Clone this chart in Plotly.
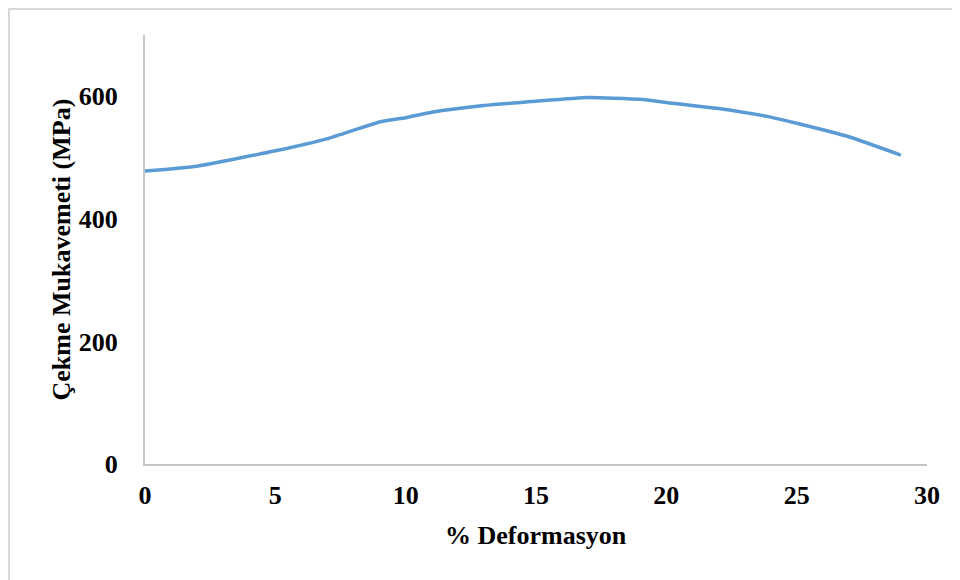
import plotly.graph_objects as go

deformasyon = [0, 2, 5, 7, 9, 10, 11, 13, 15, 17, 19, 20, 22, 24, 25, 27, 29]
mukavemet = [478, 486, 511, 531, 558, 565, 574, 585, 592, 598, 595, 590, 580, 566, 556, 534, 504]

x_ticks = [0, 5, 10, 15, 20, 25, 30]
y_ticks = [0, 200, 400, 600]

FONT = "Liberation Serif"
AXIS_COLOR = "#C6C6C6"
FS = 26

# plot area in page pixels: x 145..927, y 35..464 (page has an 8px body offset)
fig = go.Figure()
fig.add_trace(go.Scatter(
    x=deformasyon, y=mukavemet, mode="lines",
    line=dict(color="#5B9BD5", width=3.5, shape="spline", smoothing=0.45),
    showlegend=False, hoverinfo="x+y",
))

fig.update_layout(
    width=960, height=580,
    margin=dict(l=137, r=41, t=27, b=124),
    paper_bgcolor="white", plot_bgcolor="white",
    font=dict(family=FONT, size=FS, color="black"),
    xaxis=dict(
        range=[0, 30], tickvals=x_ticks, ticktext=[str(v) for v in x_ticks],
        showgrid=False, zeroline=False, showline=True, linecolor=AXIS_COLOR, linewidth=2,
        ticks="outside", ticklen=7, tickcolor="rgba(0,0,0,0)",
        tickfont=dict(family=FONT, size=FS, color="black", weight="bold"),
        fixedrange=True,
    ),
    yaxis=dict(
        range=[0, 700], tickvals=y_ticks, ticktext=[str(v) for v in y_ticks],
        showgrid=False, zeroline=False, showline=True, linecolor=AXIS_COLOR, linewidth=2,
        ticks="outside", ticklen=20, tickcolor="rgba(0,0,0,0)",
        tickfont=dict(family=FONT, size=FS, color="black", weight="bold"),
        fixedrange=True,
    ),
    shapes=[dict(
        type="rect", xref="paper", yref="paper",
        x0=-0.1739, y0=-0.30, x1=1.06, y1=1.0606,
        line=dict(color="#D9D9D9", width=2), fillcolor="rgba(0,0,0,0)", layer="below",
    )],
    annotations=[
        dict(text="<b>% Deformasyon</b>", xref="paper", yref="paper",
             x=0.5, y=-(535 - 464) / 429, xanchor="center", yanchor="middle",
             showarrow=False, font=dict(family=FONT, size=FS, color="black")),
        dict(text="<b>Çekme Mukavemeti (MPa)</b>", xref="paper", yref="paper",
             x=(61 - 145) / 782, y=0.5, xanchor="center", yanchor="middle",
             textangle=-90, showarrow=False, font=dict(family=FONT, size=FS, color="black")),
    ],
)

fig.write_html("out.html")
